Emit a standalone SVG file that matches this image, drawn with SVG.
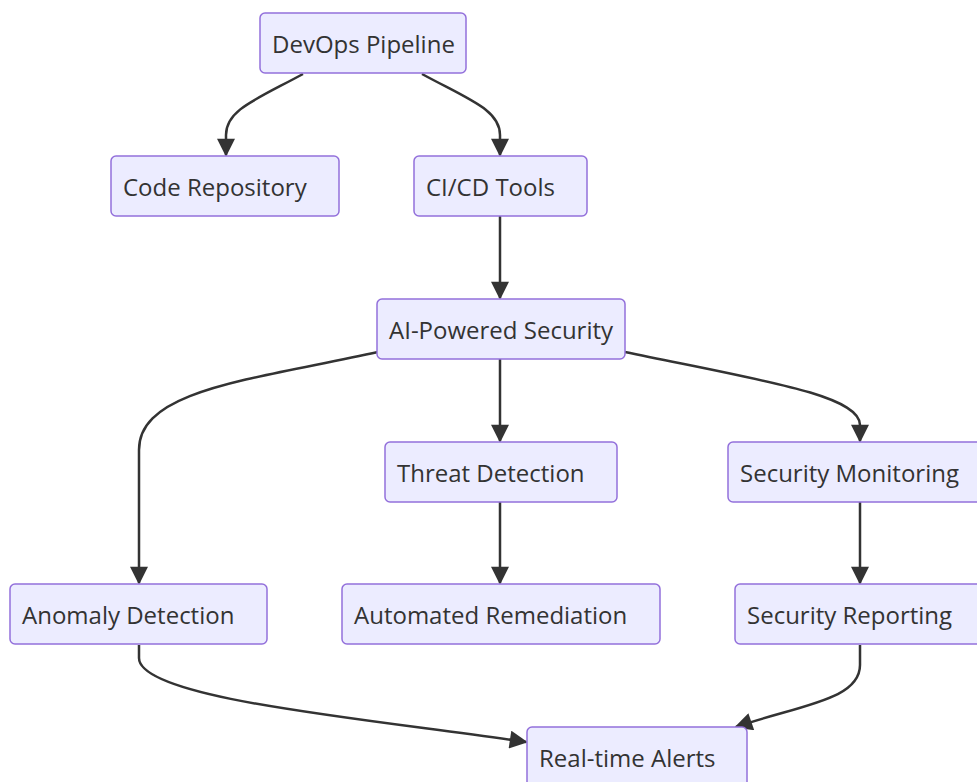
<svg xmlns="http://www.w3.org/2000/svg" width="977" height="782" viewBox="0 0 977 782">
  <style>
    .node rect { fill: #ECECFF; stroke: #9370DB; stroke-width: 1.5; }
    .node text { font-family: "Open Sans", "Noto Sans", "DejaVu Sans", sans-serif; font-size: 24px; fill: #333333; }
    .edge { fill: none; stroke: #333333; stroke-width: 2.5; }
  </style>
  <defs>
    <marker id="arrow" viewBox="0 0 10 10" refX="9" refY="5" markerUnits="userSpaceOnUse" markerWidth="20" markerHeight="18" orient="auto">
      <path d="M0,0 L10,5 L0,10 z" fill="#333333"/>
    </marker>
  </defs>
  <rect width="977" height="782" fill="#ffffff"/>

  <g id="connectors">
    <path class="edge" marker-end="url(#arrow)" d="M303,74 C255,100 226,110 226,135 L226,155"/>
    <path class="edge" marker-end="url(#arrow)" d="M422,74 C470,100 500,110 500,135 L500,155"/>
    <path class="edge" marker-end="url(#arrow)" d="M500,216 L500,298"/>
    <path class="edge" marker-end="url(#arrow)" d="M378,352 C250,380 139,390 139,450 L139,583"/>
    <path class="edge" marker-end="url(#arrow)" d="M500,359 L500,441"/>
    <path class="edge" marker-end="url(#arrow)" d="M625,352 C760,380 860,395 860,425 L860,441"/>
    <path class="edge" marker-end="url(#arrow)" d="M500,502 L500,583"/>
    <path class="edge" marker-end="url(#arrow)" d="M860,502 L860,583"/>
    <path class="edge" marker-end="url(#arrow)" d="M139,645 L139,658 C139,700 380,720 526,742"/>
    <path class="edge" marker-end="url(#arrow)" d="M860,645 L860,665 C860,700 800,705 736,727"/>
  </g>

  <g id="devops-pipeline" class="node">
    <rect x="260" y="13" width="206" height="60" rx="5"/>
    <text x="272" y="52.5">DevOps Pipeline</text>
  </g>
  <g id="code-repository" class="node">
    <rect x="111" y="156" width="228" height="60" rx="5"/>
    <text x="123" y="195.5">Code Repository</text>
  </g>
  <g id="cicd-tools" class="node">
    <rect x="414" y="156" width="173" height="60" rx="5"/>
    <text x="426" y="195.5">CI/CD Tools</text>
  </g>
  <g id="ai-powered-security" class="node">
    <rect x="377" y="299" width="248" height="60" rx="5"/>
    <text x="389" y="338.5">AI-Powered Security</text>
  </g>
  <g id="threat-detection" class="node">
    <rect x="385" y="442" width="232" height="60" rx="5"/>
    <text x="397" y="481.5">Threat Detection</text>
  </g>
  <g id="security-monitoring" class="node">
    <rect x="728" y="442" width="263" height="60" rx="5"/>
    <text x="740" y="481.5">Security Monitoring</text>
  </g>
  <g id="anomaly-detection" class="node">
    <rect x="10" y="584" width="257" height="60" rx="5"/>
    <text x="22" y="623.5">Anomaly Detection</text>
  </g>
  <g id="automated-remediation" class="node">
    <rect x="342" y="584" width="318" height="60" rx="5"/>
    <text x="354" y="623.5">Automated Remediation</text>
  </g>
  <g id="security-reporting" class="node">
    <rect x="735" y="584" width="252" height="60" rx="5"/>
    <text x="747" y="623.5">Security Reporting</text>
  </g>
  <g id="real-time-alerts" class="node">
    <rect x="527" y="727" width="220" height="60" rx="5"/>
    <text x="539" y="766.5">Real-time Alerts</text>
  </g>
</svg>
